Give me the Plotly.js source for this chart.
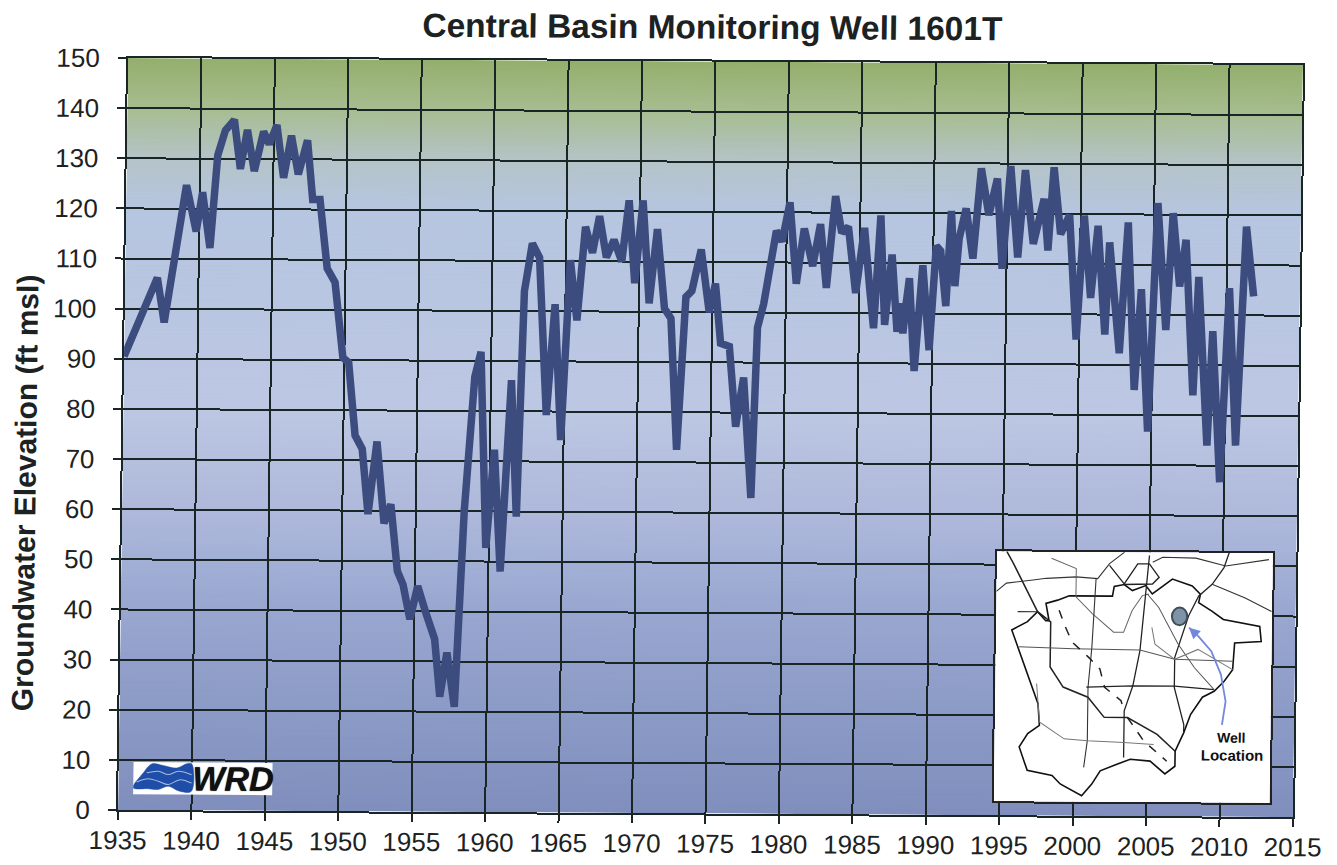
<!DOCTYPE html>
<html>
<head>
<meta charset="utf-8">
<script src="https://cdn.plot.ly/plotly-3.0.1.min.js"></script>
<style>
html,body{margin:0;padding:0;background:#fff;overflow:hidden}
#chart{width:1337px;height:865px;transform-origin:0 0;transform:matrix(1,.006,-.0133,1,5.77,-.74)}
</style>
</head>
<body>
<div id="chart"></div>
<script>
// Groundwater elevation series
const years = [1935,1937.2,1937.7,1939.1,1939.8,1940.2,1940.75,1941.2,1941.7,1942.3,1942.75,1943.2,1943.7,1944.3,1944.7,1945.2,1945.7,1946.2,1946.7,1947.3,1947.7,1948.2,1948.75,1949.3,1949.9,1950.3,1950.8,1951.3,1951.75,1952.3,1952.85,1953.3,1953.8,1954.2,1954.7,1955.2,1955.8,1956.4,1956.8,1957.25,1957.8,1958.3,1958.9,1959.3,1959.8,1960.3,1960.8,1961.4,1961.85,1962.2,1962.7,1963.2,1963.8,1964.3,1964.8,1965.3,1965.8,1966.3,1966.8,1967.25,1967.75,1968.25,1968.8,1969.25,1969.7,1970.2,1970.7,1971.2,1971.75,1972.2,1972.7,1973.2,1973.6,1974.2,1974.8,1975.2,1975.6,1976.2,1976.7,1977.2,1977.8,1978.1,1978.5,1979.3,1979.7,1980.2,1980.7,1981.2,1981.8,1982.3,1982.75,1983.3,1983.75,1984.2,1984.75,1985.3,1985.7,1986,1986.4,1986.75,1987.2,1987.6,1987.85,1988,1988.2,1988.4,1988.8,1989.3,1989.8,1990.2,1990.5,1990.9,1991.2,1991.5,1991.75,1992.2,1992.7,1993.2,1993.75,1994.3,1994.7,1995.2,1995.75,1996.2,1996.8,1997.5,1997.8,1998.15,1998.65,1999.25,1999.8,2000.25,2000.75,2001.2,2001.75,2002,2002.75,2003.25,2003.8,2004.2,2004.75,2005.25,2005.9,2006.3,2006.8,2007.2,2007.8,2008.1,2008.8,2009.1,2009.7,2010.2,2010.75,2011.3,2011.85];
const levels = [90.5,106.2,97.3,124.7,115.5,123.3,112.2,130.7,135.7,137.8,128,135.8,127.6,135.5,133,136.8,126.3,134.7,127,133.8,122,122,108.3,105.5,90.5,89.5,75,72.3,59.3,73.8,57.5,61.3,48,45.3,38.4,45,39.5,34.5,23,31.8,21,60,86.8,91.8,52.7,72.3,48,86.2,59,104,113.5,110.7,79.3,101.4,74.3,110.2,98.2,116.9,111.7,119,110.8,114.3,110,122.2,105.7,122.2,101.7,116.5,100.7,98.7,72.5,103,104.2,112.5,100,105.7,93.8,93.2,77.2,87,63,97,101.7,116.3,114.2,122,105.8,116.8,109.3,117.7,105,123.3,116,117.2,104,117,105,97,119.5,97.7,111.7,96.3,102,96,102,107,88.5,109.6,92.7,113.5,112.5,101.5,120.5,105.5,115,121,111,129,119.7,127,109,129.5,111.3,128.7,114,123,112.7,129.3,116,119.8,95,119.7,103.3,117.7,96,114.4,92.3,118.4,85,105.1,76.7,122.3,97,120.3,105.7,115,84,107.6,74,96.8,66.7,105.4,74,117.7,103.8];

const xTickYears = [1935,1940,1945,1950,1955,1960,1965,1970,1975,1980,1985,1990,1995,2000,2005,2010,2015];
const yTickValues = [0,10,20,30,40,50,60,70,80,90,100,110,120,130,140,150];

// Background wash: value on the axis, colour
const washValues = [150,140,130,120,80,60,40,0];
const washColours = ['#93af6c','#a7bd90','#b4c4c8','#b6c5e0','#bcc7e3','#aeb9db','#98a6d0','#7f8ebc'];

// Inset map polylines, in map units
const boundaryX = [215,250,380,385,415,440,480,500,560,620,645,640,680,715,825,830,750,745,720,690,655,620,600,575,575,545,500,440,400,350,325,295,230,205,130,105,130,165,160,130,100,78,125,155,180,190,180,215];
const boundaryY = [170,157,157,128,122,140,125,150,105,125,150,175,200,225,245,290,295,375,410,440,458,510,565,620,665,688,650,645,660,680,720,755,720,695,680,610,570,545,480,400,320,260,235,205,232,232,180,170];
const road1X = [60,80,155,195,195,235,310,360,430,520,575];
const road1Y = [25,60,205,235,370,430,460,520,520,570,620];
const road2X = [30,60,140,180,270,335,370,415];
const road2Y = [145,120,110,105,100,105,60,25];
const road3X = [195,270,270,320,385,415,440,470,490];
const road3Y = [45,75,160,210,265,265,200,155,150];
const road4X = [330,320,310,310,300];
const road4Y = [105,310,430,590,670];
const road5X = [490,480,470,465,445,420,420];
const road5Y = [35,150,260,320,425,500,640];
const road6X = [100,265,465,570,745];
const road6Y = [310,315,318,345,350];
const road7X = [305,445,570,690];
const road7Y = [430,425,425,435];
const road8X = [500,530,630,720,850];
const road8Y = [55,40,42,65,45];
const road9X = [730,715,680,640,610,570,570,600,600];
const road9Y = [25,70,120,155,215,340,430,540,565];
const road10X = [680,780,860];
const road10Y = [120,160,200];
const road11X = [485,520,580,630,690];
const road11Y = [150,190,300,370,435];
const road12X = [500,510,570,640,745];
const road12Y = [250,300,345,315,375];
const road13X = [155,165,240,310,420,510];
const road13Y = [420,535,585,590,595,600];
const road14X = [370,415,455,490,520,500,415];
const road14Y = [65,120,60,60,100,120,122];
const road15X = [95,155];
const road15Y = [205,205];
const dash1X = [220,235,260,310,345,360,410,420];
const dash1Y = [200,240,295,340,375,430,470,500];
const dash2X = [430,480,550];
const dash2Y = [520,590,650];
const arrowX = [715,725,710,680,640,612];
const arrowY = [540,470,390,320,275,250];

// Logo waves, in logo units
const waveX = [160,190,215,250,290,320,335,335,300,265,235,205,160];
const waveY = [145,100,73,78,85,72,72,155,155,140,150,148,145];
const ripple1X = [200,235,265,295,335];
const ripple1Y = [100,95,105,95,105];
const ripple2X = [170,205,235,265,300,335];
const ripple2Y = [128,118,125,135,120,130];

const FONT = '"Liberation Sans", Arial, sans-serif';
const GRID = '#1a2626';
const INK = '#1c2222';

function mapLine(x, y, width, colour, dash) {
  return {type:'scatter', mode:'lines', x:x, y:y, xaxis:'x2', yaxis:'y2', hoverinfo:'skip',
          line:{color:colour, width:width, dash:dash||'solid'}};
}
function logoShape(x, y, fill, colour, width) {
  return {type:'scatter', mode:'lines', x:x, y:y, xaxis:'x3', yaxis:'y3', hoverinfo:'skip',
          fill:fill, fillcolor:colour, line:{color:colour, width:width, shape:'spline'}};
}

const traces = [
  {type:'scatter', mode:'lines', x:years, y:levels, xaxis:'x', yaxis:'y', hoverinfo:'skip',
   line:{color:'#3c4c7e', width:7.5, shape:'linear'}},
  mapLine(boundaryX, boundaryY, 1.6, '#111'),
  mapLine(road1X, road1Y, 1.5, '#222'),
  mapLine(road2X, road2Y, 1.1, '#333'),
  mapLine(road3X, road3Y, 1, '#666'),
  mapLine(road4X, road4Y, 1.1, '#333'),
  mapLine(road5X, road5Y, 1.3, '#222'),
  mapLine(road6X, road6Y, 1, '#555'),
  mapLine(road7X, road7Y, 1.2, '#222'),
  mapLine(road8X, road8Y, 1.1, '#333'),
  mapLine(road9X, road9Y, 1.3, '#222'),
  mapLine(road10X, road10Y, 1.1, '#333'),
  mapLine(road11X, road11Y, 1, '#555'),
  mapLine(road12X, road12Y, 1, '#777'),
  mapLine(road13X, road13Y, 1, '#777'),
  mapLine(road14X, road14Y, 1.3, '#222'),
  mapLine(road15X, road15Y, 1.1, '#333'),
  mapLine(dash1X, dash1Y, 1.5, '#222', 'dash'),
  mapLine(dash2X, dash2Y, 1.5, '#222', 'dash'),
  mapLine(arrowX, arrowY, 1.8, '#7288dc'),
  logoShape(waveX, waveY, 'toself', '#1f4ea8', 0.5),
  logoShape(ripple1X, ripple1Y, 'none', '#a9bbe2', 1),
  logoShape(ripple2X, ripple2Y, 'none', '#a9bbe2', 1)
];

// Vertical colour wash painted once onto a canvas and handed to the layout as a background image
const canvas = document.createElement('canvas');
canvas.width = 8; canvas.height = 400;
const ctx = canvas.getContext('2d');
const grad = ctx.createLinearGradient(0, 0, 0, canvas.height);
const washTop = washValues[0];
washValues.forEach(function (v, i) { grad.addColorStop((washTop - v) / washTop, washColours[i]); });
ctx.fillStyle = grad;
ctx.fillRect(0, 0, canvas.width, canvas.height);

const layout = {
  width:1337, height:865,
  margin:{l:123, r:39, t:58, b:55, pad:0},
  paper_bgcolor:'#ffffff', plot_bgcolor:'#ffffff',
  showlegend:false,
  font:{family:FONT, color:INK},
  title:{text:'<b>Central Basin Monitoring Well 1601T</b>', font:{family:FONT, size:33.5, color:INK},
         x:0.497, xref:'paper', xanchor:'center', y:0.973, yanchor:'middle'},
  xaxis:{domain:[0,1], range:[1935,2015], tickvals:xTickYears, ticktext:xTickYears.map(String), tickangle:0,
         showgrid:true, gridcolor:GRID, gridwidth:2, zeroline:false,
         showline:true, linecolor:GRID, linewidth:2, mirror:true,
         ticks:'outside', ticklen:8, tickwidth:2, tickcolor:GRID, ticklabelstandoff:-2,
         tickfont:{family:FONT, size:26, color:INK}},
  yaxis:{domain:[0,1], range:[0,150], tickvals:yTickValues, ticktext:yTickValues.map(String),
         showgrid:true, gridcolor:GRID, gridwidth:2, zeroline:false,
         showline:true, linecolor:GRID, linewidth:2, mirror:true,
         ticks:'outside', ticklen:8, tickwidth:2, tickcolor:GRID, ticklabelstandoff:13,
         tickfont:{family:FONT, size:26, color:INK}},
  xaxis2:{domain:[0.745,0.98], range:[30,862], anchor:'y2', showgrid:false, zeroline:false,
          showticklabels:false, ticks:'', showline:true, mirror:true, linecolor:'#222', linewidth:2},
  yaxis2:{domain:[0.0186,0.351], range:[773,25], anchor:'x2', showgrid:false, zeroline:false,
          showticklabels:false, ticks:'', showline:true, mirror:true, linecolor:'#222', linewidth:2},
  xaxis3:{domain:[0.0127,0.131], range:[160,578], anchor:'y3', showgrid:false, zeroline:false,
          showticklabels:false, ticks:''},
  yaxis3:{domain:[0.021,0.0638], range:[165,68], anchor:'x3', showgrid:false, zeroline:false,
          showticklabels:false, ticks:''},
  images:[{source:canvas.toDataURL('image/png'), xref:'x', yref:'y', x:1935, y:150, sizex:80, sizey:150,
           sizing:'stretch', layer:'below', xanchor:'left', yanchor:'top'}],
  shapes:[{type:'circle', xref:'x2', yref:'y2', x0:560, x1:606, y0:190, y1:243,
           fillcolor:'#7f93a8', line:{color:'#3f4f55', width:2}, layer:'above'}],
  annotations:[
    {text:'<b>Groundwater Elevation (ft msl)</b>', textangle:-90, xref:'paper', yref:'paper',
     x:-0.0825, y:0.4205, xanchor:'center', yanchor:'middle', showarrow:false,
     font:{family:FONT, size:30, color:INK}},
    {text:'<b>Well</b>', xref:'x2', yref:'y2', x:745, y:577, showarrow:false, font:{family:FONT, size:14, color:'#111'}},
    {text:'<b>Location</b>', xref:'x2', yref:'y2', x:746, y:630, showarrow:false, font:{family:FONT, size:15, color:'#111'}},
    {x:612, y:250, ax:632, ay:268, xref:'x2', yref:'y2', axref:'x2', ayref:'y2', text:'', showarrow:true,
     arrowhead:2, arrowsize:1.1, arrowwidth:2, arrowcolor:'#7288dc'},
    {text:'<b><i>WRD</i></b>', xref:'x3', yref:'y3', x:458, y:116, showarrow:false,
     font:{family:FONT, size:34, color:'#111', shadow:'0 0 1px #111'}}
  ]
};

Plotly.newPlot('chart', traces, layout, {displayModeBar:false, staticPlot:true});
</script>
</body>
</html>
